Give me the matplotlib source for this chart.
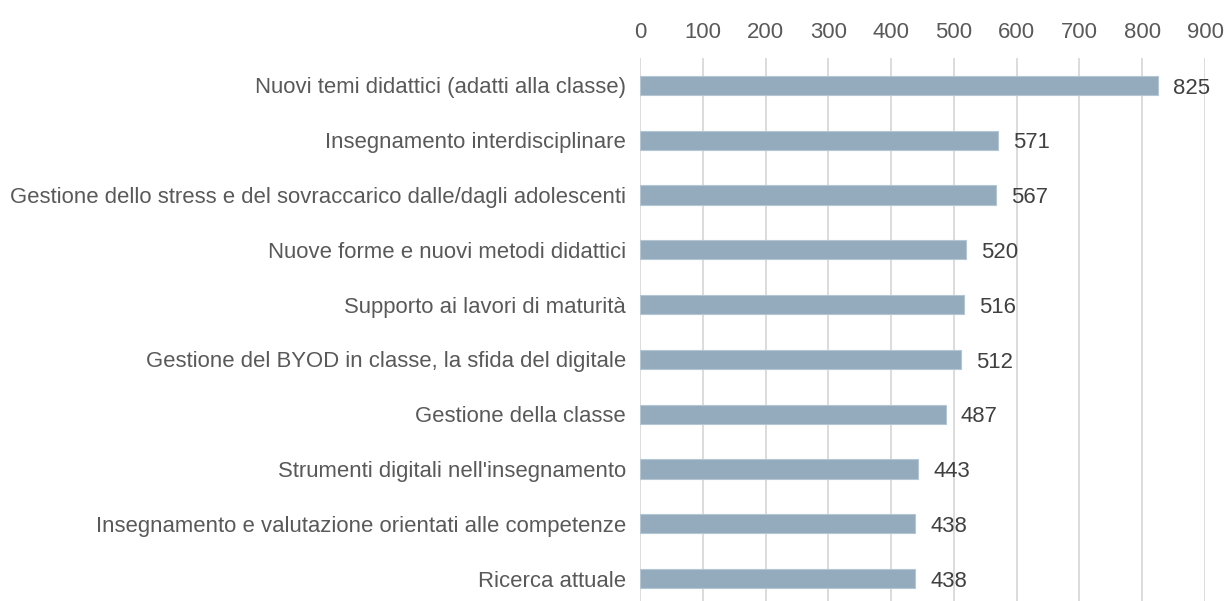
import matplotlib
matplotlib.use("Agg")
import matplotlib.pyplot as plt

categories = [
    "Nuovi temi didattici (adatti alla classe)",
    "Insegnamento interdisciplinare",
    "Gestione dello stress e del sovraccarico dalle/dagli adolescenti",
    "Nuove forme e nuovi metodi didattici",
    "Supporto ai lavori di maturità",
    "Gestione del BYOD in classe, la sfida del digitale",
    "Gestione della classe",
    "Strumenti digitali nell'insegnamento",
    "Insegnamento e valutazione orientati alle competenze",
    "Ricerca attuale",
]
values = [825, 571, 567, 520, 516, 512, 487, 443, 438, 438]
xticks = [0, 100, 200, 300, 400, 500, 600, 700, 800, 900]

plt.rcParams['font.family'] = ['Liberation Sans', 'DejaVu Sans']
text_color = '#595959'
fs = 15.9

fig = plt.figure(figsize=(12.26, 6.01), dpi=100)
ax = fig.add_axes([640/1226, 1 - 606/601, (1205-640)/1226, 548/601])

pos = list(range(len(categories)))
ax.barh(pos, values, height=0.35, color='#94abbd', edgecolor='#b5c6d3', linewidth=0.8, zorder=3)
ax.set_ylim(len(categories) - 0.5, -0.5)
ax.set_xlim(0, 900)
ax.set_yticks(pos)
ax.set_yticklabels(categories, fontsize=fs, color=text_color)
ax.set_xticks(xticks)
ax.set_xticklabels([str(t) for t in xticks], fontsize=fs, color=text_color)
ax.xaxis.tick_top()
ax.tick_params(axis='x', length=0, pad=11)
ax.tick_params(axis='y', length=0, pad=10)
ax.grid(axis='x', color='#d9d9d9', linewidth=1.3, zorder=0)
for s in ax.spines.values():
    s.set_visible(False)

for p, v in zip(pos, values):
    ax.text(v + 24, p + 0.05, str(v), va='center', ha='left', fontsize=fs, color='#404040')

fig.savefig('out.png', dpi=100)
